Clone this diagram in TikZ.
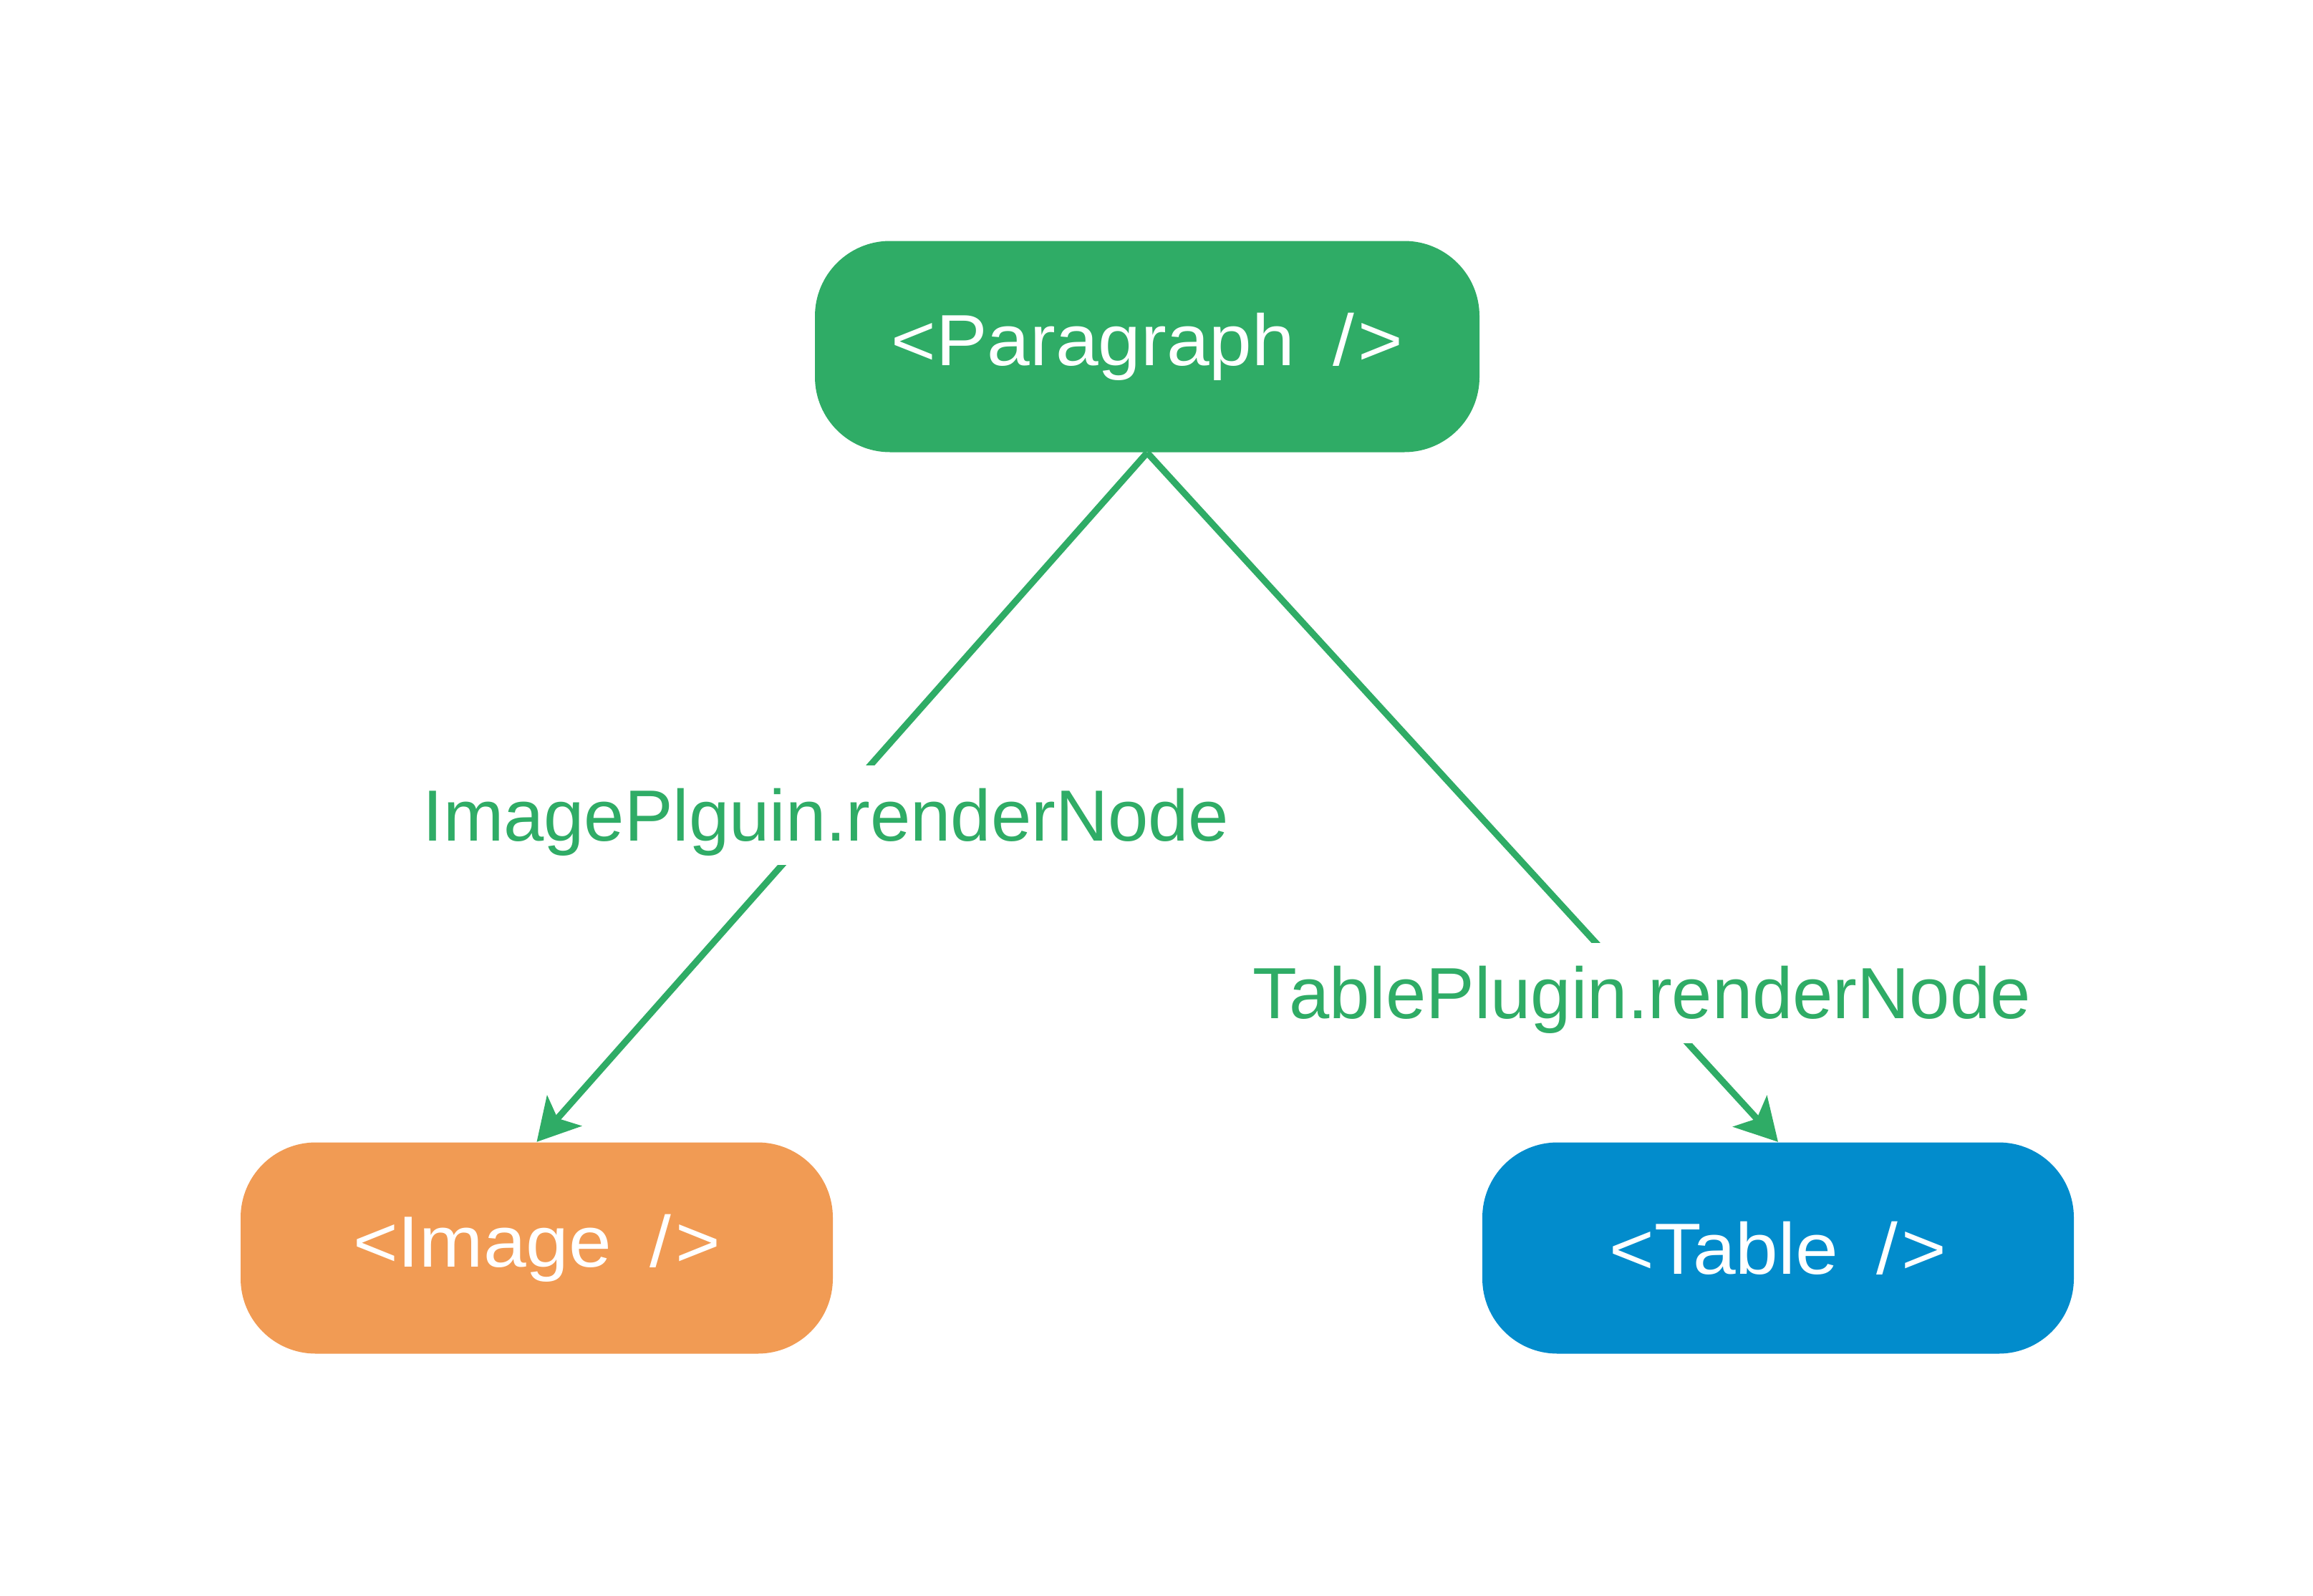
\documentclass[tikz,border=0pt]{standalone}
\usepackage{fontspec}
\setmainfont{Liberation Sans}
\usetikzlibrary{arrows.meta}
\definecolor{pgreen}{RGB}{47,172,102}
\definecolor{iorange}{RGB}{241,155,84}
\definecolor{tblue}{RGB}{2,140,204}
\newcommand{\boxtext}[1]{\scalebox{1.06}[1]{#1}}
\begin{document}
\begin{tikzpicture}[
  box/.style={rectangle, rounded corners=1.05cm, minimum height=2.95cm, text=white,
    font=\fontsize{28.8}{34}\selectfont, inner sep=0pt},
  conn/.style={draw=pgreen, line width=2.6pt, -{Stealth[length=0.58cm,width=0.64cm,inset=0.14cm]}},
  lbl/.style={fill=white, text=pgreen, font=\fontsize{28.8}{34}\selectfont,
    inner xsep=3pt, inner ysep=0pt, text height=30.1pt, text depth=9.7pt}
]
\useasboundingbox (0,0) rectangle (32.3,-22.28);
\node[box, fill=pgreen, minimum width=9.28cm] (para) at (16.02,-4.84) {\boxtext{<Paragraph\hspace{0.5em}/\hspace{0.05em}>}};
\node[box, fill=iorange, minimum width=8.27cm] (img) at (7.495,-17.43) {\boxtext{<Image\hspace{0.5em}/\hspace{0.05em}>}};
\node[box, fill=tblue, minimum width=8.26cm] (tbl) at (24.83,-17.43) {\boxtext{<Table\hspace{0.5em}/\hspace{0.05em}>}};
\draw[conn] (para.south) -- node[lbl, pos=0.526] (l1) {ImagePlguin.renderNode} (img.north);
\draw[conn] (para.south) -- node[lbl, pos=0.784] (l2) {TablePlugin.renderNode} (tbl.north);
\end{tikzpicture}
\end{document}
